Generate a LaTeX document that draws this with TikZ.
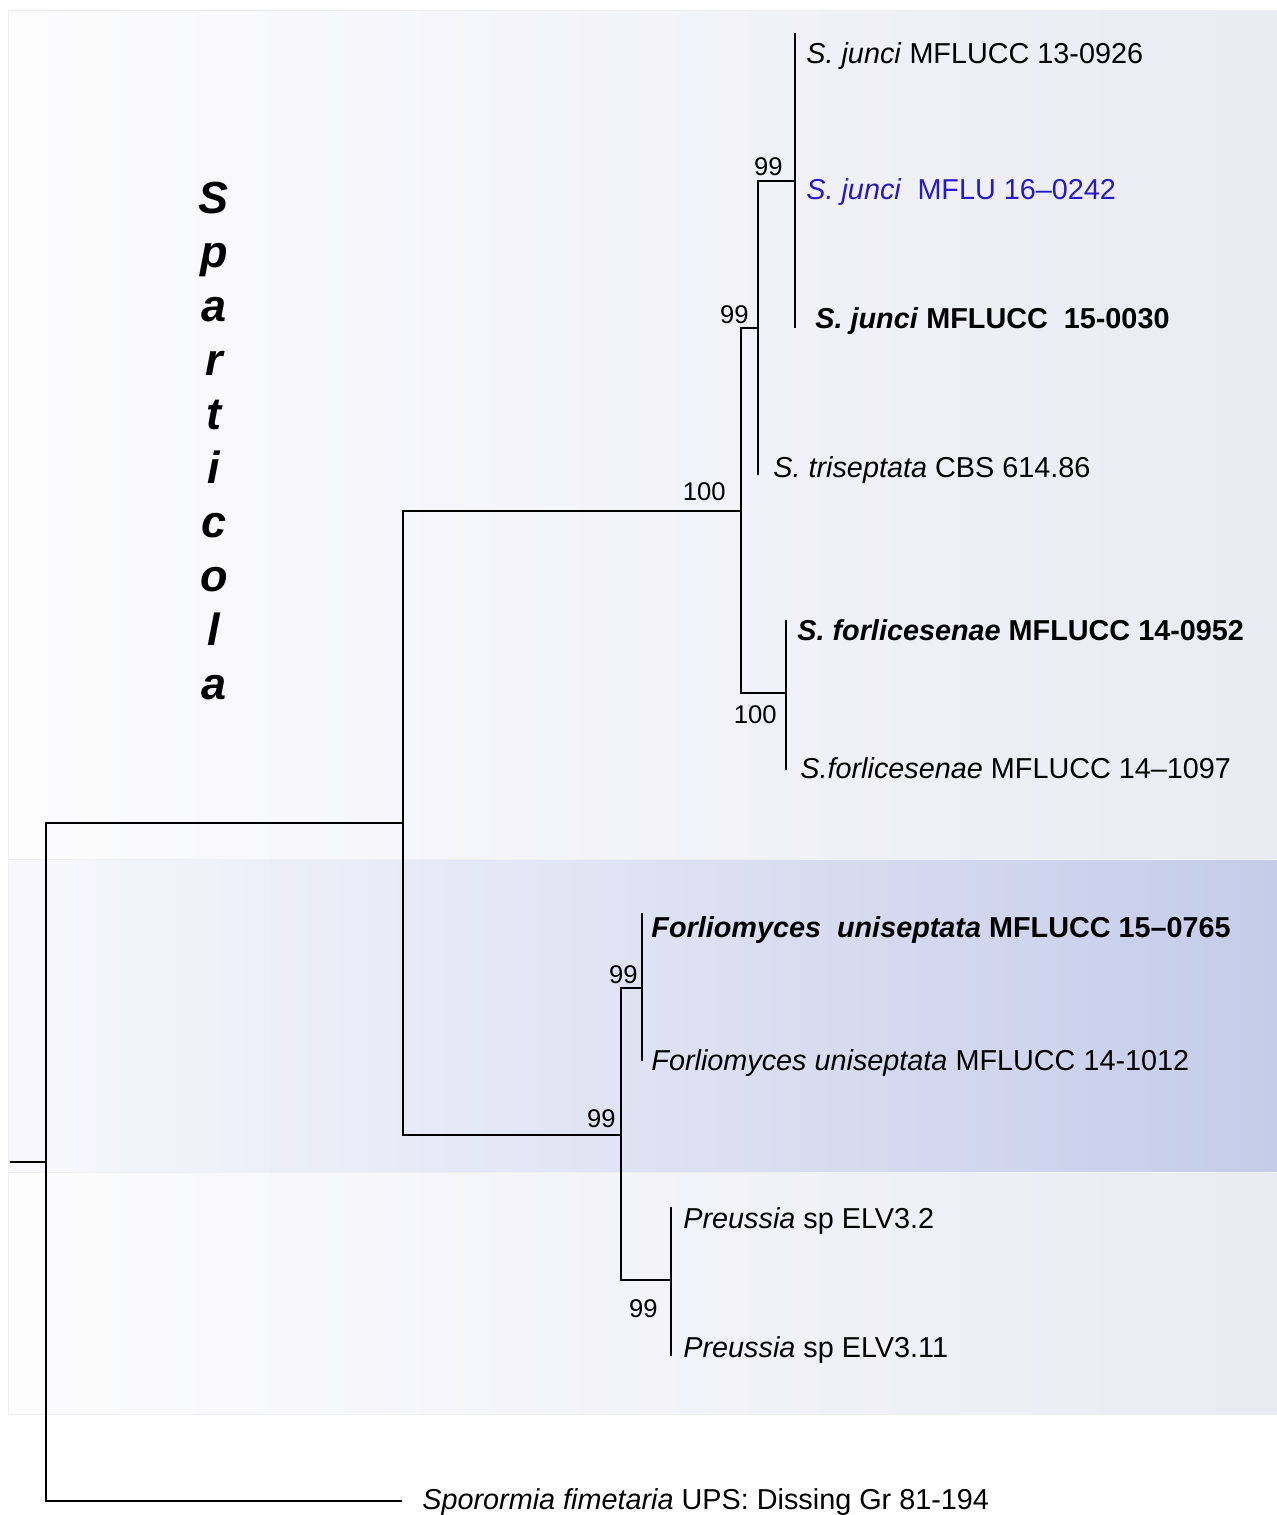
\documentclass[tikz,border=0pt]{standalone}
\usepackage{fontspec}
\setmainfont{Liberation Sans}
\definecolor{mflublue}{RGB}{40,25,200}
\definecolor{panelL}{RGB}{252,252,253}
\definecolor{panelR}{RGB}{234,235,243}
\definecolor{bandL}{RGB}{248,248,252}
\definecolor{bandM}{RGB}{211,216,238}
\definecolor{bandR}{RGB}{197,204,233}
\tikzset{
  branch/.style={line width=1pt},
  taxon/.style={anchor=base west, inner sep=0pt, font=\fontsize{14.4}{17}\selectfont},
  boldtaxon/.style={taxon, font=\fontsize{14.4}{17}\selectfont\bfseries},
  boot/.style={anchor=base east, inner sep=0pt, font=\fontsize{12.8}{15}\selectfont},
  genus/.style={anchor=base, inner sep=0pt, font=\fontsize{22.5}{27}\selectfont\bfseries\itshape},
  panel/.style={draw=black!6, line width=0.5pt}
}
\begin{document}
\begin{tikzpicture}[x=0.5pt,y=-0.5pt]
  \useasboundingbox (0,0) rectangle (1277,1515);
  % shaded backgrounds
  \draw[panel, left color=panelL, right color=panelR] (8,10) rectangle (1277,859);
  \draw[panel, left color=bandL, middle color=bandM, right color=bandR] (8,859) rectangle (1277,1172);
  \draw[panel, left color=panelL, right color=panelR] (8,1172) rectangle (1277,1414);
  % genus name
  \foreach \ch [count=\i from 0] in {S,p,a,r,t,i,c,o,l,a} {
    \node[genus] (g\i) at (214,{213+54*\i}) {\ch};
  }
  % clades and tips
  \coordinate (stub) at (10,1162);
  \coordinate (cA) at (46,1162);
  \coordinate (cB) at (403,823);
  \coordinate (cC) at (741,511);
  \coordinate (cD) at (758,328);
  \coordinate (cJ) at (795,181);
  \coordinate (cE) at (786,693);
  \coordinate (cF) at (621,1135);
  \coordinate (cG) at (642,988);
  \coordinate (cH) at (671,1280);
  \coordinate (t1) at (795,33);
  \coordinate (t3) at (795,328);
  \coordinate (t4) at (758,475);
  \coordinate (t5) at (786,620);
  \coordinate (t6) at (786,770);
  \coordinate (t7) at (642,913);
  \coordinate (t8) at (642,1061);
  \coordinate (t9) at (671,1207);
  \coordinate (t10) at (671,1356);
  \coordinate (tOut) at (402,1501);
  \draw[branch] (stub) -- (cA);
  \draw[branch] (cA) |- (cB) (cA) |- (tOut);
  \draw[branch] (cB) |- (cC) (cB) |- (cF);
  \draw[branch] (cC) |- (cD) (cC) |- (cE);
  \draw[branch] (cD) |- (cJ) (cD) -- (t4);
  \draw[branch] (cJ) -- (t1) (cJ) -- (t3);
  \draw[branch] (cE) -- (t5) (cE) -- (t6);
  \draw[branch] (cF) |- (cG) (cF) |- (cH);
  \draw[branch] (cG) -- (t7) (cG) -- (t8);
  \draw[branch] (cH) -- (t9) (cH) -- (t10);
  % support values
  \node[boot] (bJ) at (783,175) {99};
  \node[boot] (bD) at (749,323) {99};
  \node[boot] (bC) at (726,500) {100};
  \node[boot] (bE) at (777,723) {100};
  \node[boot] (bF) at (616,1127) {99};
  \node[boot] (bG) at (638,983) {99};
  \node[boot] (bH) at (658,1317) {99};
  % taxa
  \node[taxon] (l1) at (806,63) {\textit{S. junci} MFLUCC 13-0926};
  \node[taxon, text=mflublue] (l2) at (806,199) {\textit{S. junci}\ \ MFLU 16–0242};
  \node[boldtaxon] (l3) at (815,328) {\textit{S. junci} MFLUCC\ \ 15-0030};
  \node[taxon] (l4) at (773,477) {\textit{S. triseptata} CBS 614.86};
  \node[boldtaxon] (l5) at (797,640) {\textit{S. forlicesenae} MFLUCC 14-0952};
  \node[taxon] (l6) at (800,778) {\textit{S.forlicesenae} MFLUCC 14–1097};
  \node[boldtaxon] (l7) at (651,937) {\textit{Forliomyces\ \ uniseptata} MFLUCC 15–0765};
  \node[taxon] (l8) at (651,1070) {\textit{Forliomyces uniseptata} MFLUCC 14-1012};
  \node[taxon] (l9) at (683,1228) {\textit{Preussia} sp ELV3.2};
  \node[taxon] (l10) at (683,1357) {\textit{Preussia} sp ELV3.11};
  \node[taxon] (lOut) at (422,1509) {\textit{Sporormia fimetaria} UPS: Dissing Gr 81-194};
\end{tikzpicture}
\end{document}
